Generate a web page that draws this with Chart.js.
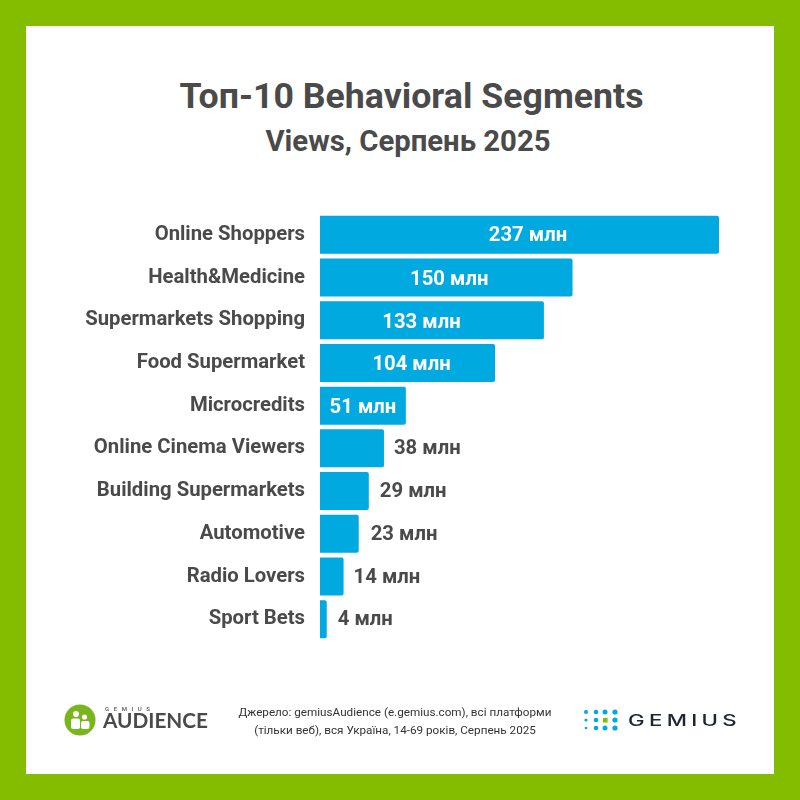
<!DOCTYPE html>
<html lang="uk">
<head>
<meta charset="utf-8">
<title>Топ-10 Behavioral Segments</title>
<script src="https://cdn.jsdelivr.net/npm/chart.js@4"></script>
<style>
  html, body { margin: 0; padding: 0; }
  body { width: 800px; height: 800px; background: #84bd00; position: relative; overflow: hidden; font-family: Roboto, sans-serif; color: #4a4a4a; }
  #card { position: absolute; left: 26px; top: 26px; width: 748px; height: 748px; background: #fff; }
  #chart-box { position: absolute; left: 0; top: 0; width: 800px; height: 800px; }
  h1, h2 { position: absolute; left: 0; margin: 0; text-align: center; font-weight: 700; }
  h1 { top: 74px; width: 823px; font-size: 35.7px; line-height: 44px; }
  h2 { top: 123px; width: 816px; font-size: 29.3px; line-height: 36px; }
  #source { position: absolute; left: 195px; top: 703px; width: 400px; text-align: center; font-size: 11.7px; line-height: 18px; color: #333; white-space: nowrap; }
  svg { position: absolute; left: 0; top: 0; }
</style>
</head>
<body>
<div id="card"></div>
<h1>Топ-10 Behavioral Segments</h1>
<h2>Views, Серпень 2025</h2>
<div id="chart-box"><canvas id="segments-chart" width="800" height="800"></canvas></div>
<div id="source">Джерело: gemiusAudience (e.gemius.com), всі платформи<br>(тільки веб), вся Україна, 14-69 років, Серпень 2025</div>

<svg width="800" height="800" viewBox="0 0 800 800">
  <!-- audience logo -->
  <circle cx="80" cy="720" r="15.5" fill="#7ab51d"/>
  <circle cx="76" cy="714" r="3" fill="#fff"/>
  <circle cx="84.5" cy="717" r="2.6" fill="#fff"/>
  <rect x="71" y="718.5" width="9" height="10.5" rx="2" fill="#fff"/>
  <rect x="81" y="721" width="8.5" height="8" rx="2" fill="#fff"/>
  <text x="105" y="711" font-family="Roboto" font-size="6" font-weight="500" fill="#555" textLength="45" lengthAdjust="spacing">GEMIUS</text>
  <text x="103" y="728" font-family="Lato" font-size="20" font-weight="700" fill="#4a4a4a" textLength="105" lengthAdjust="spacingAndGlyphs">AUDIENCE</text>
  <!-- gemius logo -->
  <g fill="#00a9e0">
    <circle cx="586" cy="712" r="2"/><circle cx="596" cy="712" r="2.3"/><circle cx="605" cy="712" r="2.5"/><circle cx="615" cy="712" r="2.6"/>
    <circle cx="586" cy="720" r="1.6"/><circle cx="596" cy="720" r="2.3"/><circle cx="615" cy="720" r="2.6"/>
    <circle cx="586" cy="728" r="1.3"/><circle cx="596" cy="728" r="2.3"/><circle cx="605" cy="728" r="2.5"/><circle cx="615" cy="728" r="2.6"/>
  </g>
  <rect x="603" y="718" width="4.6" height="4.6" fill="#84bd00"/>
  <text x="628" y="725.5" font-family="Inter" font-size="15.5" font-weight="500" letter-spacing="3" fill="#1d2530" textLength="113" lengthAdjust="spacingAndGlyphs">GEMIUS</text>
</svg>

<script>
const categories = ['Online Shoppers', 'Health&Medicine', 'Supermarkets Shopping', 'Food Supermarket', 'Microcredits', 'Online Cinema Viewers', 'Building Supermarkets', 'Automotive', 'Radio Lovers', 'Sport Bets'];
const views = [237, 150, 133, 104, 51, 38, 29, 23, 14, 4];
const valueSuffix = ' млн';

const barColor = '#00a9e0';
const textColor = '#4a4a4a';

// short bars get the label outside, long ones inside
const insideFrom = 50;
// the labels in the original were placed by hand, so not quite centred
const labelNudgeX = [8.5, 3, -10.5, 4, 0, 0, 1, 2, 0, 1];
const labelNudgeY = [1, 2, 3, 2, 2, 1, 1, 1, 1, 1];

const valueLabels = {
    id: 'valueLabels',
    afterDatasetsDraw(chart) {
        const ctx = chart.ctx;
        const bars = chart.getDatasetMeta(0).data;
        ctx.save();
        ctx.font = '700 20.3px Roboto';
        ctx.textBaseline = 'middle';
        bars.forEach((bar, i) => {
            const label = views[i] + valueSuffix;
            const y = bar.y + labelNudgeY[i];
            if (views[i] >= insideFrom) {
                ctx.fillStyle = '#fff';
                ctx.textAlign = 'center';
                ctx.fillText(label, (bar.base + bar.x) / 2 + labelNudgeX[i], y);
            } else {
                ctx.fillStyle = textColor;
                ctx.textAlign = 'left';
                ctx.fillText(label, bar.x + 10 + labelNudgeX[i], y);
            }
        });
        ctx.restore();
    }
};

new Chart(document.getElementById('segments-chart'), {
    type: 'bar',
    data: {
        labels: categories,
        datasets: [{
            data: views,
            backgroundColor: barColor,
            borderRadius: 2,
            barPercentage: 0.89,
            categoryPercentage: 1
        }]
    },
    options: {
        indexAxis: 'y',
        responsive: false,
        animation: false,
        layout: { padding: { top: 213.5, right: 81, bottom: 159.5, left: 0 } },
        plugins: { legend: { display: false }, tooltip: { enabled: false } },
        scales: {
            x: { min: 0, max: 237, display: false },
            y: {
                afterFit(axis) { axis.width = 320; },
                grid: { display: false, drawTicks: false },
                border: { display: false },
                ticks: {
                    color: textColor,
                    padding: 15,
                    font: { family: 'Roboto', size: 20.3, weight: '700' }
                }
            }
        }
    },
    plugins: [valueLabels]
});
</script>
</body>
</html>
